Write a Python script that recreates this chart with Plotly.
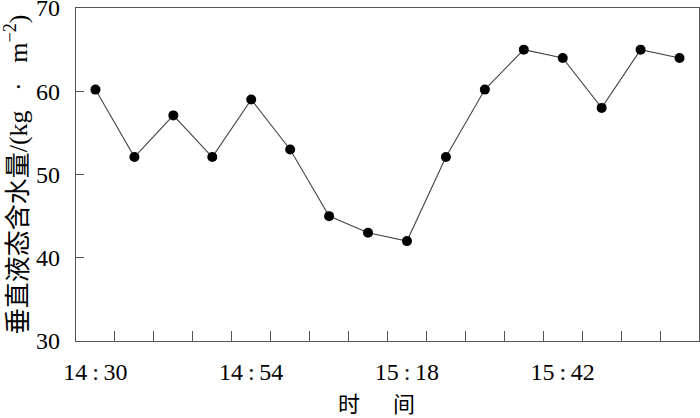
import plotly.graph_objects as go

times = ["14:30", "14:36", "14:42", "14:48", "14:54", "15:00", "15:06", "15:12",
         "15:18", "15:24", "15:30", "15:36", "15:42", "15:48", "15:54", "16:00"]
lwc = [60.2, 52.1, 57.1, 52.1, 59.0, 53.0, 45.0, 43.0, 42.0, 52.1, 60.2, 65.0, 64.0, 58.0, 65.0, 64.0]
label_times = ["14:30", "14:54", "15:18", "15:42"]
y_ticks = [30, 40, 50, 60, 70]

idx = list(range(len(times)))
label_idx = [times.index(t) for t in label_times]
label_text = [t.replace(":", "\u2009:\u2009") for t in label_times]
boundaries = [i + 0.5 for i in idx[:-1]]

serif = "Liberation Serif, Noto Sans CJK SC, serif"

fig = go.Figure()
fig.add_trace(go.Scatter(
    x=idx, y=lwc, mode="lines+markers",
    line=dict(color="#444444", width=1.1),
    marker=dict(color="black", size=10),
    hoverinfo="skip", showlegend=False,
))

fig.update_layout(
    width=700, height=418,
    margin=dict(l=76, r=1, t=8, b=77, autoexpand=False),
    paper_bgcolor="white", plot_bgcolor="white",
    font=dict(family=serif, size=24, color="black"),
    xaxis=dict(
        range=[-0.5, len(times) - 0.5],
        tickvals=label_idx, ticktext=label_text,
        ticks="", showgrid=False, zeroline=False, automargin=False,
        showline=True, linecolor="#555555", linewidth=1.2, mirror=True,
        tickfont=dict(family=serif, size=24, color="black"),
        ticklabelstandoff=9,
        minor=dict(tickvals=boundaries, ticks="inside", ticklen=10,
                   tickcolor="#555555", tickwidth=1.2, showgrid=False),
    ),
    yaxis=dict(
        range=[30, 70], tickvals=y_ticks,
        ticks="inside", ticklen=8, tickcolor="#555555", tickwidth=1.2,
        showgrid=False, zeroline=False, automargin=False,
        showline=True, linecolor="#555555", linewidth=1.2, mirror=True,
        tickfont=dict(family=serif, size=24, color="black"),
        ticklabelstandoff=10, ticklabeloverflow="allow",
    ),
    annotations=[
        dict(text="垂直液态含水量/(kg \u2002·\u2002 m<sup>−2</sup>)", xref="paper", yref="paper",
             x=-0.095, y=0.5, xanchor="center", yanchor="middle", textangle=-90,
             showarrow=False, font=dict(family=serif, size=26, color="black")),
        dict(text="时\u3000\u2002间", xref="paper", yref="paper",
             x=0.482, y=-0.192, xanchor="center", yanchor="middle",
             showarrow=False, font=dict(family=serif, size=22, color="black")),
    ],
)

fig.write_html("out.html", post_script="document.body.style.margin='0';",
               config={"displayModeBar": False})
